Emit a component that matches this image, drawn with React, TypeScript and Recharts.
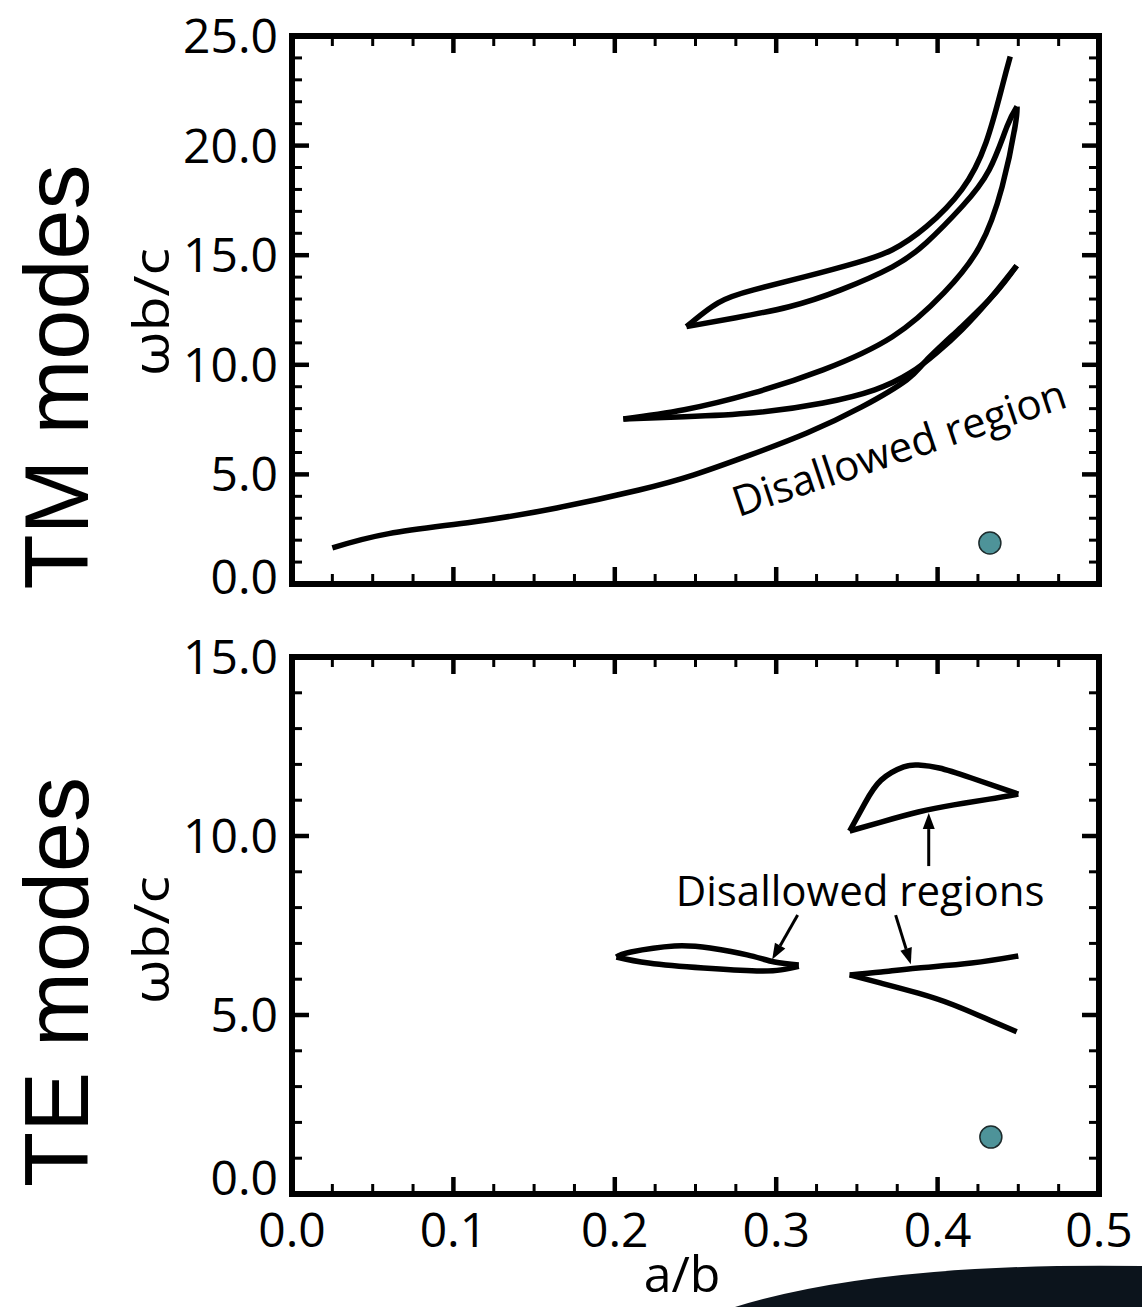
import React from 'react';
import {
    ComposedChart,
    Line,
    Scatter,
    XAxis,
    YAxis,
    ReferenceArea,
    ReferenceLine,
    ReferenceDot,
} from 'recharts';

type Pt = [number, number];

// tick labels
const X_LABELS = [0, 0.1, 0.2, 0.3, 0.4, 0.5];
const TM_Y_LABELS = [0, 5, 10, 15, 20, 25];
const TE_Y_LABELS = [0, 5, 10, 15];

// TM modes: lower boundary curve
const TM_BASE: Pt[] = [
    [0.025, 1.65], [0.06, 2.3], [0.112, 2.83], [0.164, 3.47], [0.215, 4.29],
    [0.249, 4.98], [0.284, 5.89], [0.319, 6.89], [0.353, 8.08], [0.381, 9.32], [0.393, 10.2],
    [0.415, 11.74], [0.436, 13.29], [0.449, 14.52],
];
// TM modes: middle loop, split in two branches
const TM_MID_UPPER: Pt[] = [
    [0.2053, 7.53], [0.243, 7.95], [0.286, 8.72], [0.329, 9.77], [0.372, 11.28], [0.404, 13.29],
    [0.426, 15.39], [0.44, 18.13], [0.448, 20.87], [0.4492, 21.78],
];
const TM_MID_LOWER: Pt[] = [
    [0.2053, 7.53], [0.243, 7.63], [0.286, 7.81], [0.329, 8.26], [0.361, 8.86], [0.383, 9.63],
    [0.3995, 10.55], [0.415, 11.6], [0.432, 12.97], [0.449, 14.52],
];
// TM modes: upper loop
const TM_TOP_UPPER: Pt[] = [
    [0.2444, 11.74], [0.264, 12.83], [0.286, 13.42], [0.318, 14.02], [0.35, 14.66], [0.372, 15.25],
    [0.393, 16.3], [0.415, 17.99], [0.43, 20.14], [0.44, 22.69], [0.445, 24.06],
];
const TM_TOP_LOWER: Pt[] = [
    [0.2444, 11.74], [0.275, 12.15], [0.308, 12.65], [0.34, 13.42], [0.372, 14.47], [0.393, 15.57],
    [0.415, 17.21], [0.432, 18.9], [0.443, 20.87], [0.4492, 21.78],
];
const TM_DOT: Pt[] = [[0.4324, 1.87]];

// TE modes: left lens
const TE_LENS_UPPER: Pt[] = [
    [0.201, 6.62], [0.21, 6.76], [0.237, 6.93], [0.259, 6.87], [0.282, 6.68], [0.299, 6.48], [0.314, 6.4],
];
const TE_LENS_LOWER: Pt[] = [
    [0.201, 6.62], [0.221, 6.45], [0.255, 6.31], [0.288, 6.23], [0.303, 6.26], [0.314, 6.36],
];
// TE modes: open wedge
const TE_WEDGE_UPPER: Pt[] = [
    [0.3455, 6.12], [0.365, 6.2], [0.388, 6.31], [0.421, 6.45], [0.45, 6.65],
];
const TE_WEDGE_LOWER: Pt[] = [
    [0.3455, 6.12], [0.365, 5.89], [0.388, 5.61], [0.41, 5.28], [0.432, 4.86], [0.449, 4.53],
];
// TE modes: upper triangle-like loop
const TE_TRI_UPPER: Pt[] = [
    [0.3455, 10.14], [0.355, 10.92], [0.365, 11.56], [0.379, 11.93], [0.388, 11.98], [0.401, 11.9],
    [0.421, 11.62], [0.45, 11.17],
];
const TE_TRI_LOWER: Pt[] = [
    [0.3455, 10.14], [0.365, 10.39], [0.388, 10.67], [0.41, 10.87], [0.432, 11.03], [0.45, 11.17],
];
const TE_DOT: Pt[] = [[0.433, 1.59]];

// annotation arrows (from -> to) in TE panel
const TE_ARROWS: [Pt, Pt][] = [
    [[0.3133, 7.79], [0.2975, 6.55]],
    [[0.374, 7.79], [0.3834, 6.42]],
    [[0.3945, 9.16], [0.3945, 10.64]],
];

const FONT = '"Open Sans", "Noto Sans", sans-serif';
const INK = '#000';
const TEAL = '#4e9399';

const PAGE_W = 1142;
const PLOT_LEFT = 292;
const PLOT_RIGHT = 1099;
const PLOT_W = PLOT_RIGHT - PLOT_LEFT;
const Y_AXIS_W = 100;
const X_AXIS_H = 30;

const X_TICKS = Array.from({ length: 21 }, (_, i) => (i * 25) / 1000);
const yTicks = (max: number) => Array.from({ length: max + 1 }, (_, i) => i);
const near = (a: number, b: number) => Math.abs(a - b) < 1e-6;
const toPts = (arr: Pt[]) => arr.map(([x, y]) => ({ x, y }));

// ticks point inward on all four sides
const makeXTick = (plotH: number, withLabels: boolean) => (props: any) => {
    const { x, y, payload } = props;
    const v = payload.value as number;
    const major = near(v * 10, Math.round(v * 10));
    const edge = near(v, 0) || near(v, 0.5);
    const len = major ? 17 : 10;
    const sw = major ? 4.5 : 3;
    return (
        <g>
            {!edge && <line x1={x} y1={y} x2={x} y2={y - len} stroke={INK} strokeWidth={sw} />}
            {!edge && <line x1={x} y1={y - plotH} x2={x} y2={y - plotH + len} stroke={INK} strokeWidth={sw} />}
            {withLabels && X_LABELS.some((l) => near(l, v)) && (
                <text x={x} y={y + 53} textAnchor="middle" fontFamily={FONT} fontSize={48} fill={INK}>
                    {v.toFixed(1)}
                </text>
            )}
        </g>
    );
};

const makeYTick = (labels: number[], yMax: number, zeroShift: number) => (props: any) => {
    const { x, y, payload } = props;
    const v = payload.value as number;
    const major = v % 5 === 0;
    const edge = v === 0 || v === yMax;
    const len = major ? 17 : 10;
    const sw = major ? 4.5 : 3;
    // the zero label sits a little above the bottom frame in the original
    const dy = v === 0 ? zeroShift : 0;
    return (
        <g>
            {!edge && <line x1={x} y1={y} x2={x + len} y2={y} stroke={INK} strokeWidth={sw} />}
            {!edge && <line x1={x + PLOT_W} y1={y} x2={x + PLOT_W - len} y2={y} stroke={INK} strokeWidth={sw} />}
            {labels.includes(v) && (
                <text x={x - 14} y={y + 17 + dy} textAnchor="end" fontFamily={FONT} fontSize={48} fill={INK}>
                    {v.toFixed(1)}
                </text>
            )}
        </g>
    );
};

const Arrow = (props: any) => {
    const { x1, y1, x2, y2 } = props;
    const ang = Math.atan2(y2 - y1, x2 - x1);
    const hl = 16;
    const hw = 6;
    const bx = x2 - hl * Math.cos(ang);
    const by = y2 - hl * Math.sin(ang);
    const px = -Math.sin(ang) * hw;
    const py = Math.cos(ang) * hw;
    return (
        <g>
            <line x1={x1} y1={y1} x2={bx} y2={by} stroke={INK} strokeWidth={3} />
            <polygon points={`${x2},${y2} ${bx + px},${by + py} ${bx - px},${by - py}`} fill={INK} />
        </g>
    );
};

const Note = (text: string, rotate: number) => (props: any) => {
    const { cx, cy } = props;
    return (
        <text
            x={cx}
            y={cy}
            textAnchor="middle"
            fontFamily={FONT}
            fontSize={42}
            fill={INK}
            transform={rotate ? `rotate(${rotate} ${cx} ${cy})` : undefined}
        >
            {text}
        </text>
    );
};

const DotShape = (props: any) => (
    <circle cx={props.cx} cy={props.cy} r={11} fill={TEAL} stroke="#1d2b2c" strokeWidth={1.5} />
);

interface PanelProps {
    top: number;
    height: number;
    plotTop: number;
    plotBottom: number;
    yMax: number;
    yLabels: number[];
    zeroShift: number;
    branches: Pt[][];
    dot: Pt[];
    showX: boolean;
    extras?: React.ReactNode[];
}

function Panel({ top, height, plotTop, plotBottom, yMax, yLabels, zeroShift, branches, dot, showX, extras = [] }: PanelProps) {
    const plotH = plotBottom - plotTop;
    return (
        <div style={{ position: 'absolute', left: 0, top, width: PAGE_W, height }}>
            <ComposedChart
                width={PAGE_W}
                height={height}
                margin={{
                    top: plotTop - top,
                    right: PAGE_W - PLOT_RIGHT,
                    bottom: top + height - plotBottom - X_AXIS_H,
                    left: PLOT_LEFT - Y_AXIS_W,
                }}
            >
                <XAxis
                    type="number"
                    dataKey="x"
                    domain={[0, 0.5]}
                    ticks={X_TICKS}
                    interval={0}
                    height={X_AXIS_H}
                    axisLine={false}
                    tickLine={false}
                    tickSize={0}
                    tickMargin={0}
                    tick={makeXTick(plotH, showX)}
                    allowDataOverflow
                />
                <YAxis
                    type="number"
                    dataKey="y"
                    domain={[0, yMax]}
                    ticks={yTicks(yMax)}
                    interval={0}
                    width={Y_AXIS_W}
                    axisLine={false}
                    tickLine={false}
                    tickSize={0}
                    tickMargin={0}
                    tick={makeYTick(yLabels, yMax, zeroShift)}
                    allowDataOverflow
                />
                {branches.map((b, i) => (
                    <Line
                        key={i}
                        data={toPts(b)}
                        dataKey="y"
                        type="natural"
                        stroke={INK}
                        strokeWidth={5.5}
                        dot={false}
                        activeDot={false}
                        isAnimationActive={false}
                    />
                ))}
                <Scatter data={toPts(dot)} dataKey="y" shape={DotShape} isAnimationActive={false} />
                {extras}
                <ReferenceArea x1={0} x2={0.5} y1={0} y2={yMax} fill="none" stroke={INK} strokeWidth={6} ifOverflow="visible" />
            </ComposedChart>
        </div>
    );
}

export default function App() {
    const teExtras = [
        ...TE_ARROWS.map(([from, to], i) => (
            <ReferenceLine
                key={`a${i}`}
                segment={[{ x: from[0], y: from[1] }, { x: to[0], y: to[1] }]}
                shape={Arrow}
                ifOverflow="visible"
            />
        )),
        <ReferenceDot key="note" x={0.352} y={8.04} r={0} shape={Note('Disallowed regions', 0)} ifOverflow="visible" />,
    ];
    const tmExtras = [
        <ReferenceDot key="note" x={0.379} y={5.57} r={0} shape={Note('Disallowed region', -18.5)} ifOverflow="visible" />,
    ];

    return (
        <div style={{ position: 'absolute', left: 0, top: 0, width: PAGE_W, height: 1307, background: '#fff', overflow: 'hidden' }}>
            <Panel
                top={0}
                height={620}
                plotTop={36}
                plotBottom={584}
                yMax={25}
                yLabels={TM_Y_LABELS}
                zeroShift={-7}
                branches={[TM_BASE, TM_MID_UPPER, TM_MID_LOWER, TM_TOP_UPPER, TM_TOP_LOWER]}
                dot={TM_DOT}
                showX={false}
                extras={tmExtras}
            />
            <Panel
                top={620}
                height={687}
                plotTop={657}
                plotBottom={1194}
                yMax={15}
                yLabels={TE_Y_LABELS}
                zeroShift={-16}
                branches={[TE_LENS_UPPER, TE_LENS_LOWER, TE_WEDGE_UPPER, TE_WEDGE_LOWER, TE_TRI_UPPER, TE_TRI_LOWER]}
                dot={TE_DOT}
                showX={true}
                extras={teExtras}
            />
            {/* panel titles, axis titles and the dark backdrop in the corner */}
            <svg width={PAGE_W} height={1307} style={{ position: 'absolute', left: 0, top: 0, pointerEvents: 'none' }}>
                <path d="M 735 1307 Q 880 1262 1142 1266 L 1142 1307 Z" fill="#0c141c" />
                <text x={88} y={377} transform="rotate(-90 88 377)" textAnchor="middle" fontFamily='"Liberation Sans", Arial, sans-serif' fontSize={90} fill={INK}>
                    TM modes
                </text>
                <text x={88} y={982} transform="rotate(-90 88 982)" textAnchor="middle" fontFamily='"Liberation Sans", Arial, sans-serif' fontSize={90} fill={INK}>
                    TE modes
                </text>
                <text x={169} y={312} transform="rotate(-90 169 312)" textAnchor="middle" fontFamily={FONT} fontSize={50} textLength={128} lengthAdjust="spacingAndGlyphs" fill={INK}>
                    ωb/c
                </text>
                <text x={169} y={940} transform="rotate(-90 169 940)" textAnchor="middle" fontFamily={FONT} fontSize={50} textLength={128} lengthAdjust="spacingAndGlyphs" fill={INK}>
                    ωb/c
                </text>
                <text x={682} y={1292} textAnchor="middle" fontFamily={FONT} fontSize={50} fill={INK}>
                    a/b
                </text>
            </svg>
        </div>
    );
}
